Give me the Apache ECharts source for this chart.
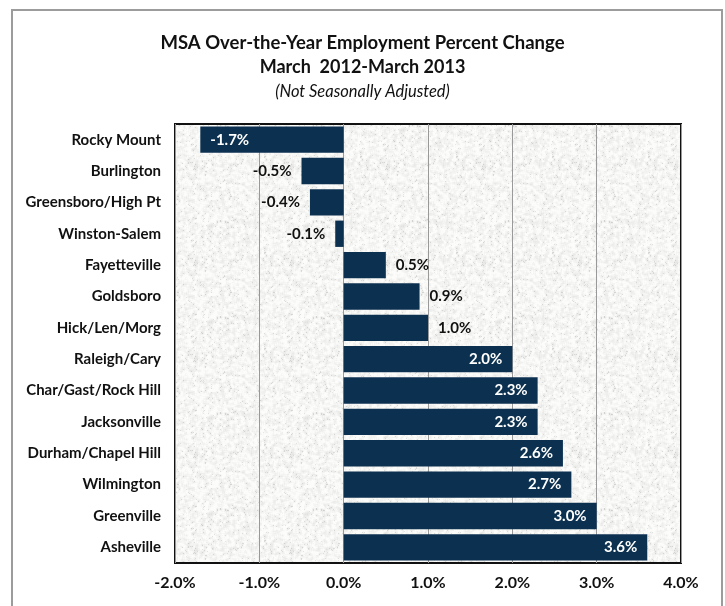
<!DOCTYPE html>
<html>
<head>
<meta charset="utf-8">
<script src="https://cdn.jsdelivr.net/npm/echarts@6/dist/echarts.min.js"></script>
<style>
html,body{margin:0;padding:0;background:#fff;}
#chart{width:725px;height:606px;}
</style>
</head>
<body>
<div id="chart"></div>
<script>
const categories = ["Rocky Mount","Burlington","Greensboro/High Pt","Winston-Salem","Fayetteville","Goldsboro","Hick/Len/Morg","Raleigh/Cary","Char/Gast/Rock Hill","Jacksonville","Durham/Chapel Hill","Wilmington","Greenville","Asheville"];
const values = [-1.7,-0.5,-0.4,-0.1,0.5,0.9,1.0,2.0,2.3,2.3,2.6,2.7,3.0,3.6];
const xTicks = [-2,-1,0,1,2,3,4];

const FONT = 'Lato, "Open Sans", sans-serif';

// deterministic mottled texture for plot background
function makeTexture() {
  const n = 96;
  const c = document.createElement('canvas');
  c.width = n; c.height = n;
  const ctx = c.getContext('2d');
  const img = ctx.createImageData(n, n);
  const h = (x, y) => {
    let t = ((x % n) * 374761393 + (y % n) * 668265263) | 0;
    t = (t ^ (t >>> 13)) * 1274126177 | 0;
    return ((t ^ (t >>> 16)) >>> 0) / 4294967295;
  };
  const base = [];
  for (let y = 0; y < n; y++) for (let x = 0; x < n; x++) base.push(h(x, y));
  for (let y = 0; y < n; y++) {
    for (let x = 0; x < n; x++) {
      let s = 0;
      for (let dy = -1; dy <= 1; dy++) for (let dx = -1; dx <= 1; dx++) {
        s += base[((y + dy + n) % n) * n + ((x + dx + n) % n)];
      }
      s /= 9;
      let v = 246 - (s - 0.5) * 60 - (base[y * n + x] > 0.97 ? 25 : 0);
      v = Math.max(180, Math.min(252, v));
      const i = (y * n + x) * 4;
      img.data[i] = v; img.data[i + 1] = v; img.data[i + 2] = v - 2; img.data[i + 3] = 255;
    }
  }
  ctx.putImageData(img, 0, 0);
  return c;
}

const chart = echarts.init(document.getElementById('chart'), null, {renderer:'canvas'});

const data = values.map(v => {
  const inside = Math.abs(v) >= 1.5;
  let position;
  if (v < 0) { position = inside ? 'insideLeft' : 'left'; }
  else { position = inside ? 'insideRight' : 'right'; }
  return { value: v, label: { show: true, position, color: inside ? '#ffffff' : '#111111', distance: 10 } };
});

chart.setOption({
  animation: false,
  backgroundColor: '#ffffff',
  title: [
    { text: 'MSA Over-the-Year Employment Percent Change', left: 'center', top: 29,
      textStyle: { fontFamily: FONT, fontWeight: 'bold', fontSize: 18.5, color: '#111' } },
    { text: 'March  2012-March 2013', left: 'center', top: 53,
      textStyle: { fontFamily: FONT, fontWeight: 'bold', fontSize: 18, color: '#111' } },
    { text: '(Not Seasonally Adjusted)', left: 'center', top: 78,
      textStyle: { fontFamily: FONT, fontWeight: 'normal', fontStyle: 'italic', fontSize: 16.5, color: '#111' } }
  ],
  graphic: [
    { type: 'rect', shape: { x: 12, y: 10, width: 710, height: 620 },
      style: { fill: 'none', stroke: '#9c9c9c', lineWidth: 2 }, z: -1 }
  ],
  grid: { left: 175, right: 44, top: 124, bottom: 43, show: true,
    backgroundColor: { image: makeTexture(), repeat: 'repeat' },
    borderColor: '#111111', borderWidth: 2 },
  xAxis: {
    type: 'value', min: xTicks[0], max: xTicks[xTicks.length-1], interval: 1,
    axisLine: { show: false }, axisTick: { show: false },
    splitLine: { show: true, lineStyle: { color: '#999999', width: 1 } },
    axisLabel: { margin: 12, fontFamily: FONT, fontWeight: 'bold', fontSize: 16, color: '#111',
      formatter: v => v.toFixed(1) + '%' }
  },
  yAxis: {
    type: 'category', data: categories, inverse: true,
    axisLine: { show: false }, axisTick: { show: false },
    axisLabel: { margin: 14, fontFamily: FONT, fontWeight: 'bold', fontSize: 15, color: '#111' }
  },
  series: [{
    type: 'bar', data: data, barCategoryGap: '16%',
    itemStyle: { color: '#0c3150' },
    label: { fontFamily: FONT, fontWeight: 'bold', fontSize: 15,
      formatter: p => p.value.toFixed(1) + '%' }
  }]
});
</script>
</body>
</html>
